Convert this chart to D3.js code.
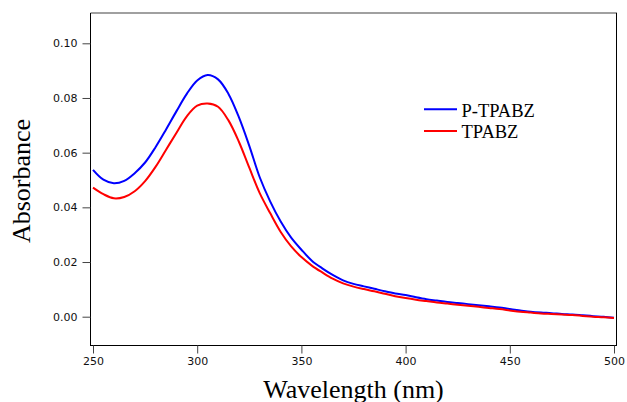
<!DOCTYPE html>
<html>
<head>
<meta charset="utf-8">
<script src="https://cdn.jsdelivr.net/npm/d3@7"></script>
<style>
  html, body { margin: 0; padding: 0; background: #fff; }
  svg { display: block; }
</style>
</head>
<body>
<svg id="chart" width="627" height="402"></svg>
<script>
// ---- data ----
const wavelengths = [250,255,260,265,270,275,280,285,290,295,300,305,310,315,320,325,330,335,340,345,350,355,360,365,370,375,380,385,390,395,400,405,410,415,420,425,430,435,440,445,450,455,460,465,470,475,480,485,490,495,500];
const pTPABZ = [0.0537,0.0501,0.0488,0.0497,0.0525,0.0564,0.0620,0.0684,0.0751,0.0815,0.0864,0.0884,0.0868,0.0815,0.0730,0.0625,0.0510,0.0422,0.0349,0.0290,0.0245,0.0205,0.0177,0.0153,0.0133,0.0120,0.0111,0.0102,0.0093,0.0085,0.0079,0.0071,0.0064,0.0059,0.0054,0.0050,0.0046,0.0042,0.0038,0.0034,0.0028,0.0023,0.0018,0.0015,0.0013,0.0010,0.0008,0.0005,0.0002,0.0000,-0.0004];
const TPABZ = [0.0472,0.0448,0.0433,0.0438,0.0459,0.0496,0.0548,0.0610,0.0672,0.0733,0.0772,0.0780,0.0768,0.0718,0.0640,0.0545,0.0452,0.0379,0.0311,0.0258,0.0218,0.0187,0.0162,0.0139,0.0122,0.0110,0.0101,0.0093,0.0084,0.0075,0.0068,0.0062,0.0057,0.0052,0.0048,0.0044,0.0040,0.0036,0.0032,0.0028,0.0023,0.0018,0.0015,0.0012,0.0010,0.0008,0.0006,0.0003,0.0000,-0.0002,-0.0005];
const seriesNames = ["P-TPABZ", "TPABZ"];
const seriesColors = ["#0000ff", "#ff0000"];
const xTicks = [250, 300, 350, 400, 450, 500];
const yTicks = [0.00, 0.02, 0.04, 0.06, 0.08, 0.10];

// ---- layout ----
const svg = d3.select("#chart");
const frame = { left: 90.5, right: 616.5, top: 13, bottom: 345.5 };
const x = d3.scaleLinear().domain([250, 500]).range([93, 614]);
const y = d3.scaleLinear().domain([0, 0.10]).range([316.7, 43.3]);

// frame
svg.append("line").attr("x1", frame.left).attr("x2", frame.right + 0.5)
  .attr("y1", frame.top).attr("y2", frame.top)
  .attr("stroke", "#808080").attr("stroke-width", 1.6);
svg.append("line").attr("x1", frame.right).attr("x2", frame.right)
  .attr("y1", frame.top).attr("y2", frame.bottom)
  .attr("stroke", "#000").attr("stroke-width", 1);
svg.append("line").attr("x1", frame.left).attr("x2", frame.left)
  .attr("y1", frame.top).attr("y2", frame.bottom + 0.5)
  .attr("stroke", "#000").attr("stroke-width", 1);
svg.append("line").attr("x1", frame.left).attr("x2", frame.right + 0.5)
  .attr("y1", frame.bottom).attr("y2", frame.bottom)
  .attr("stroke", "#000").attr("stroke-width", 1);

// axes
const xAxis = d3.axisBottom(x).tickValues(xTicks).tickSize(8).tickPadding(4).tickFormat(d3.format("d"));
const gx = svg.append("g").attr("transform", `translate(0,${frame.bottom})`).call(xAxis);
gx.select(".domain").remove();
gx.selectAll(".tick line").attr("stroke", "#444");
gx.selectAll(".tick text").attr("font-family", "DejaVu Sans").attr("font-size", 11).attr("fill", "#111");

const yAxis = d3.axisLeft(y).tickValues(yTicks).tickSize(8).tickPadding(5).tickFormat(d3.format(".2f"));
const gy = svg.append("g").attr("transform", `translate(${frame.left},0)`).call(yAxis);
gy.select(".domain").remove();
gy.selectAll(".tick line").attr("stroke", "#444");
gy.selectAll(".tick text").attr("font-family", "DejaVu Sans").attr("font-size", 11).attr("fill", "#111");

// axis titles
svg.append("text").attr("x", 353.5).attr("y", 397.5).attr("text-anchor", "middle")
  .attr("font-family", "Liberation Serif").attr("font-size", 26).attr("fill", "#000")
  .text("Wavelength (nm)");
svg.append("text").attr("transform", "translate(30,181) rotate(-90)").attr("text-anchor", "middle")
  .attr("font-family", "Liberation Serif").attr("font-size", 26).attr("fill", "#000")
  .text("Absorbance");

// lines
const data = [pTPABZ, TPABZ];
const line = d3.line().x((d, i) => x(wavelengths[i])).y(d => y(d)).curve(d3.curveCatmullRom.alpha(0.5));
data.forEach((vals, k) => {
  svg.append("path").datum(vals).attr("d", line)
    .attr("fill", "none").attr("stroke", seriesColors[k]).attr("stroke-width", 2)
    .attr("stroke-linejoin", "round");
});

// legend
seriesNames.forEach((name, k) => {
  const ly = 109.3 + k * 21.7;
  svg.append("line").attr("x1", 424).attr("x2", 457).attr("y1", ly).attr("y2", ly)
    .attr("stroke", seriesColors[k]).attr("stroke-width", 2);
  svg.append("text").attr("x", 461.5).attr("y", ly + 7.3)
    .attr("font-family", "Liberation Serif").attr("font-size", 18.5).attr("fill", "#000")
    .text(name);
});
</script>
</body>
</html>
